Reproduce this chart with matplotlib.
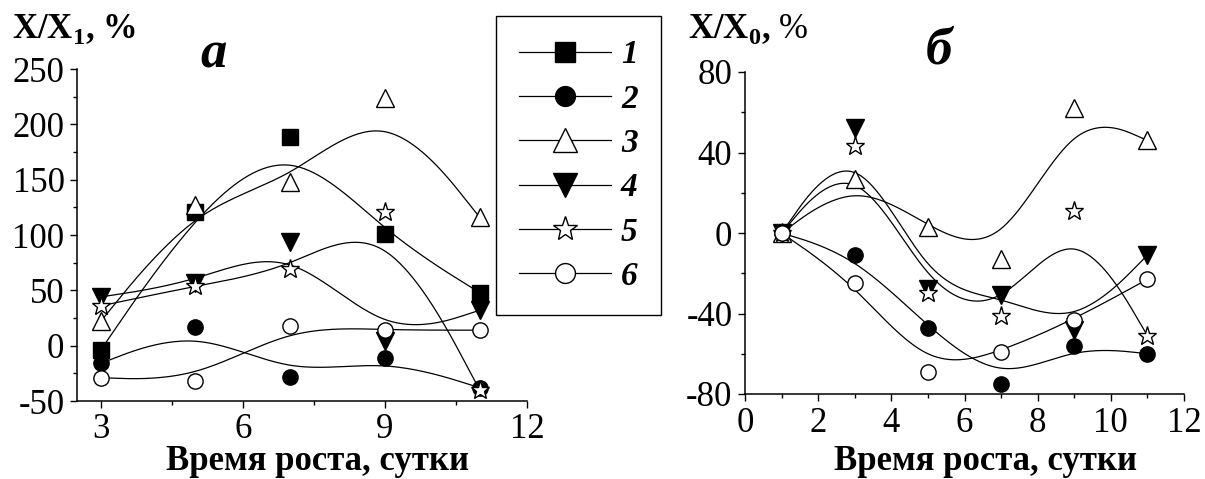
# growth-time plots, two panels with b-spline curves
import numpy as np
import matplotlib
matplotlib.use('Agg')
import matplotlib.pyplot as plt
from matplotlib.lines import Line2D

plt.rcParams['font.family'] = ['Liberation Serif', 'DejaVu Serif']
plt.rcParams['font.serif'] = ['Liberation Serif', 'DejaVu Serif']
plt.rcParams['axes.unicode_minus'] = False
plt.rcParams['mathtext.fontset'] = 'custom'
plt.rcParams['mathtext.bf'] = 'Liberation Serif:bold'
plt.rcParams['mathtext.rm'] = 'Liberation Serif'

# panel a data
days_a = [3, 5, 7, 9, 11]
a1 = [-4, 121, 189, 101, 48]
a2 = [-16, 17, -28, -11, -38]
a3 = [22, 127, 148, 224, 116]
a4 = [44, 57, 94, 4, 32]
a5 = [36, 54, 69, 121, -40]
a6 = [-29, -32, 18, 14, 14]

# panel b data (no series 1)
days_b = [1, 3, 5, 7, 9, 11]
b2 = [0, -11, -47, -75, -56, -60]
b3 = [0, 27, 3, -13, 62, 46]
b4 = [0, 52, -28, -31, -48, -11]
b5 = [0, 43, -30, -41, 11, -51]
b6 = [0, -25, -69, -59, -43, -23]

labels = ['1', '2', '3', '4', '5', '6']
markers = ['s', 'o', '^', 'v', '*', 'o']
faces = ['black', 'black', 'white', 'black', 'white', 'white']
sizes = [11, 11, 13, 13, 14, 11]

# uniform cubic b-spline basis
M = np.array([[-1, 3, -3, 1],
              [3, -6, 3, 0],
              [-3, 0, 3, 0],
              [1, 4, 1, 0]]) / 6.0


def bspline(xs, ys, n=60):
    # data points are the control points, end points repeated so the
    # curve starts and ends on them (like origin's b-spline connect)
    P = np.column_stack([xs, ys]).astype(float)
    P = np.vstack([P[:1], P[:1], P, P[-1:], P[-1:]])
    s = np.linspace(0, 1, n)
    T = np.column_stack([s ** 3, s ** 2, s, np.ones_like(s)])
    segs = [T @ M @ P[i:i + 4] for i in range(len(P) - 3)]
    c = np.vstack(segs)
    return c[:, 0], c[:, 1]


def draw(ax, x, y, idx):
    cx, cy = bspline(x, y)
    ax.plot(cx, cy, color='black', lw=0.9, zorder=2)
    ax.plot(x, y, ls='none', marker=markers[idx], ms=sizes[idx],
            mfc=faces[idx], mec='black', mew=1.0, zorder=3 + idx)


def style(ax):
    for s in ['top', 'right']:
        ax.spines[s].set_visible(False)
    for s in ['left', 'bottom']:
        ax.spines[s].set_linewidth(1.1)
    ax.tick_params(which='major', direction='out', length=5, width=1.0,
                   labelsize=25, pad=4)
    ax.tick_params(which='minor', direction='out', length=3, width=1.0)
    for lbl in ax.get_xticklabels() + ax.get_yticklabels():
        lbl.set_fontfamily('Liberation Serif')


fig = plt.figure(figsize=(12.05, 4.79), dpi=100)

# panel a
ax1 = fig.add_axes([77 / 1205, 78 / 479, 450 / 1205, 332 / 479])
for i, ys in enumerate([a1, a2, a3, a4, a5, a6]):
    draw(ax1, days_a, ys, i)
ax1.set_xlim(2.5, 12)
ax1.set_ylim(-50, 250)
ax1.set_xticks([3, 6, 9, 12])
ax1.set_xticks([4.5, 7.5, 10.5], minor=True)
ax1.set_yticks([-50, 0, 50, 100, 150, 200, 250])
ax1.set_yticks(np.arange(-25, 250, 50), minor=True)
style(ax1)

# panel b
ax2 = fig.add_axes([745 / 1205, 85 / 479, 439 / 1205, 322 / 479])
for i, ys in zip([1, 2, 3, 4, 5], [b2, b3, b4, b5, b6]):
    draw(ax2, days_b, ys, i)
ax2.set_xlim(0, 12)
ax2.set_ylim(-80, 80)
ax2.set_xticks(range(0, 13, 2))
ax2.set_xticks(range(1, 12, 2), minor=True)
ax2.set_yticks([-80, -40, 0, 40, 80])
ax2.set_yticks([-60, -20, 20, 60], minor=True)
style(ax2)

# titles and axis labels
fig.text(12 / 1205, 1 - 38 / 479, r'X/X$_{\mathbf{1}}$, %', fontsize=25,
         fontweight='bold', va='baseline')
fig.text(688 / 1205, 1 - 38 / 479, r'X/X$_{\mathbf{0}}$, $\mathrm{\%}$',
         fontsize=25, fontweight='bold', va='baseline')
fig.text(214 / 1205, 1 - 54 / 479, 'а', fontsize=38, fontweight='bold',
         style='italic', ha='center', va='center')
fig.text(939 / 1205, 1 - 51 / 479, 'б', fontsize=38, fontweight='bold',
         style='italic', ha='center', va='center')
fig.text(318 / 1205, 9 / 479, 'Время роста, сутки', fontsize=25,
         fontweight='bold', ha='center', va='baseline')
fig.text(986 / 1205, 9 / 479, 'Время роста, сутки', fontsize=25,
         fontweight='bold', ha='center', va='baseline')

# legend
handles = [Line2D([], [], color='black', lw=0.9, marker=markers[i],
                  ms=sizes[i] * 1.3, mfc=faces[i], mec='black', mew=1.0)
           for i in range(6)]
leg = fig.legend(handles, labels, loc='upper left',
                 bbox_to_anchor=(496 / 1205, 1 - 16 / 479), borderaxespad=0,
                 prop={'size': 24, 'weight': 'bold', 'style': 'italic'},
                 handlelength=2.75, handletextpad=0.3, labelspacing=0.4,
                 borderpad=0.7, fancybox=False, framealpha=1)
leg.get_frame().set_edgecolor('black')
leg.get_frame().set_linewidth(1.0)

fig.savefig('out.png', dpi=100)
